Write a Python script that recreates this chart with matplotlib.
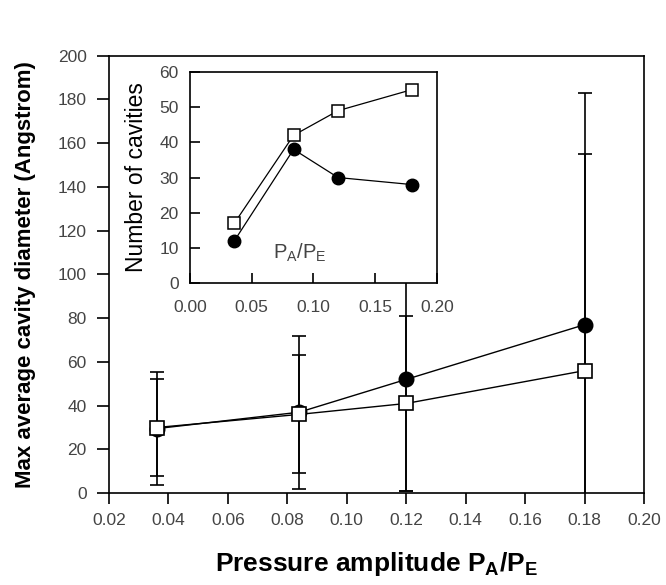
import numpy as np
import matplotlib
matplotlib.use("Agg")
import matplotlib.pyplot as plt

plt.rcParams['font.family'] = ['Liberation Sans', 'DejaVu Sans']

# pressure amplitude P_A/P_E
pa_pe = [0.036, 0.084, 0.12, 0.18]

# main plot: max average cavity diameter (Angstrom)
diam_circle = [29.5, 37, 52, 77]
err_circle = [26, 35, 51, 106]
diam_square = [30, 36, 41, 56]
err_square = [22, 27, 40, 99]

# inset: number of cavities
n_square = [17, 42, 49, 55]
n_circle = [12, 38, 30, 28]

main_xticks = [0.02, 0.04, 0.06, 0.08, 0.10, 0.12, 0.14, 0.16, 0.18, 0.20]
main_yticks = list(range(0, 201, 20))
inset_xticks = [0.00, 0.05, 0.10, 0.15, 0.20]
inset_yticks = list(range(0, 61, 10))

tick_col = '#444444'

fig = plt.figure(figsize=(6.66, 5.85), dpi=100)
ax = fig.add_axes([0.1637, 0.157, 0.8033, 0.748])

ax.errorbar(pa_pe, diam_circle, yerr=err_circle, fmt='none', ecolor='black',
            elinewidth=1.2, capsize=5, capthick=1.2, zorder=1)
ax.errorbar(pa_pe, diam_square, yerr=err_square, fmt='none', ecolor='black',
            elinewidth=1.2, capsize=5, capthick=1.2, zorder=1)
ax.plot(pa_pe, diam_circle, color='black', lw=1, marker='o', ms=10.5,
        mfc='black', mec='black', zorder=3)
ax.plot(pa_pe, diam_square, color='black', lw=1, marker='s', ms=10,
        mfc='white', mec='black', mew=1.2, zorder=4)

ax.set_xlim(0.02, 0.20)
ax.set_ylim(0, 200)
ax.set_xticks(main_xticks)
ax.set_xticklabels([f"{v:.2f}" for v in main_xticks])
ax.set_yticks(main_yticks)
ax.tick_params(direction='out', width=1.2, labelsize=12.5,
               labelcolor=tick_col)
ax.tick_params(axis='x', length=8, pad=6)
ax.tick_params(axis='y', length=9, pad=7)
for s in ax.spines.values():
    s.set_linewidth(1.2)
ax.set_xlabel(r"Pressure amplitude P$_\mathregular{A}$/P$_\mathregular{E}$",
              fontsize=19, fontweight='bold', labelpad=16)
ax.set_ylabel("Max average cavity diameter (Angstrom)", fontsize=16,
              fontweight='bold', labelpad=16)

# inset
ins = fig.add_axes([0.285, 0.516, 0.371, 0.361])
ins.set_facecolor('white')
ins.set_zorder(5)
ins.plot(pa_pe, n_square, color='black', lw=0.9, marker='s', ms=9,
         mfc='white', mec='black', mew=1.1, zorder=4)
ins.plot(pa_pe, n_circle, color='black', lw=0.9, marker='o', ms=9,
         mfc='black', mec='black', zorder=3)
ins.set_xlim(0.0, 0.20)
ins.set_ylim(0, 60)
ins.set_xticks(inset_xticks)
ins.set_xticklabels([f"{v:.2f}" for v in inset_xticks])
ins.set_yticks(inset_yticks)
ins.tick_params(direction='in', length=7, width=1.2, labelsize=12.5,
                labelcolor=tick_col)
ins.tick_params(axis='x', pad=12)
ins.tick_params(axis='y', pad=8)
for s in ins.spines.values():
    s.set_linewidth(1.2)
ins.set_ylabel("Number of cavities", fontsize=16.5, labelpad=8)
ins.text(0.089, 8.5, r"P$_\mathregular{A}$/P$_\mathregular{E}$", fontsize=14.5,
         ha='center', va='center', color=tick_col)

fig.savefig("out.png", dpi=100)
